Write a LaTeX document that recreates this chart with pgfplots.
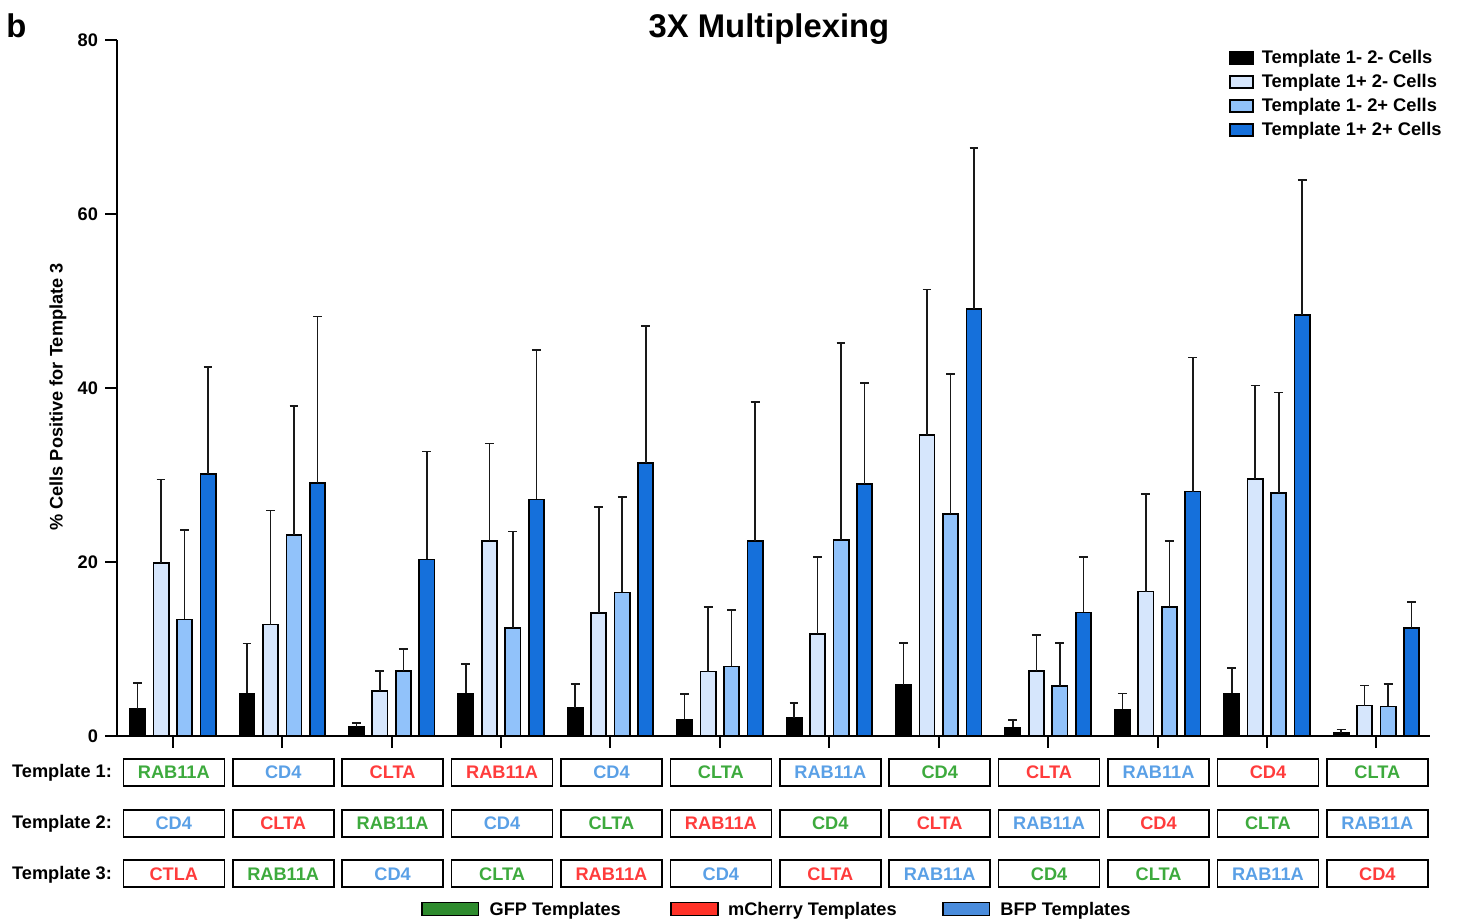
\documentclass[border=0pt]{standalone}
\usepackage{pgfplots}
\pgfplotsset{compat=1.18}
\usepackage{pgfplotstable}
\usepackage{fontspec}
\setmainfont{Liberation Sans}
\definecolor{darkb}{HTML}{1570DB}
\definecolor{midb}{HTML}{91C2FA}
\definecolor{lightb}{HTML}{D6E6FC}
\definecolor{tg}{HTML}{3DAA3D}
\definecolor{tr}{HTML}{FF3C3C}
\definecolor{tb}{HTML}{5AA0E6}
\definecolor{lg}{HTML}{2E8B2E}
\definecolor{lr}{HTML}{FF3228}
\definecolor{lb}{HTML}{4A8CDC}

% x = group, y = mean, e = upper error
\pgfplotstableread{
x y e
0 3.1 3.0
1 4.9 5.75
2 1.07 0.43
3 4.9 3.4
4 3.2 2.8
5 1.9 2.9
6 2.07 1.73
7 5.9 4.8
8 0.98 0.86
9 3.06 1.84
10 4.9 2.9
11 0.35 0.41
}\tblA
\pgfplotstableread{
x y e
0 19.85 9.65
1 12.8 13.1
2 5.2 2.3
3 22.4 11.2
4 14.1 12.2
5 7.4 7.4
6 11.7 8.9
7 34.6 16.7
8 7.5 4.1
9 16.6 11.2
10 29.5 10.8
11 3.5 2.3
}\tblB
\pgfplotstableread{
x y e
0 13.4 10.3
1 23.1 14.8
2 7.5 2.5
3 12.4 11.1
4 16.5 11.0
5 8.0 6.5
6 22.5 22.7
7 25.5 16.1
8 5.75 4.95
9 14.8 7.6
10 27.9 11.6
11 3.4 2.6
}\tblC
\pgfplotstableread{
x y e
0 30.1 12.3
1 29.1 19.1
2 20.3 12.4
3 27.2 17.2
4 31.4 15.7
5 22.4 16.0
6 29.0 11.6
7 49.1 18.5
8 14.2 6.4
9 28.1 15.4
10 48.4 15.5
11 12.4 3.0
}\tblD

\pgfplotsset{eb/.style={error bars/.cd, y dir=plus, y explicit,
  error bar style={line width=0.8pt, black!90},
  error mark options={rotate=90, mark size=2.2pt, line width=0.8pt, black!90}}}

\begin{document}
\begin{tikzpicture}[font=\bfseries\fontsize{9.1}{11}\selectfont,
  box/.style={draw=black, line width=0.8pt, minimum width=50.5pt, minimum height=13.5pt, inner sep=0pt}]
\useasboundingbox (-58.5pt,-91.5pt) rectangle (670pt,368pt);
\begin{axis}[
  at={(0pt,0pt)}, anchor=south west,
  width=656.5pt, height=348pt, scale only axis,
  xmin=-0.51, xmax=11.49, ymin=0, ymax=80,
  axis x line=bottom, axis y line=left,
  axis line style={-, line width=1pt},
  every non boxed x axis/.append style={x axis line style=-},
  every non boxed y axis/.append style={y axis line style=-},
  xtick={0,...,11}, xticklabels={},
  ytick={0,20,40,60,80},
  tick align=outside, major tick length=6pt,
  tick style={line width=1pt, black},
  yticklabel style={font=\bfseries\fontsize{9.1}{11}\selectfont},
  /pgf/number format/assume math mode=true,
  ybar=4.15pt, bar width=7.6pt,
  clip=false,
  legend cell align=left,
  legend style={at={(0.8469,0.9869)}, anchor=north west, draw=none, fill=none,
    inner sep=0pt, outer sep=0pt, row sep=3pt,
    /tikz/every odd column/.append style={column sep=1.6pt},
    nodes={inner xsep=2.5pt, inner ysep=0pt, text height=7pt, text depth=2pt,
      font=\bfseries\fontsize{9.15}{11}\selectfont}},
  legend image code/.code={\draw[#1] (0pt,-3pt) rectangle (11.5pt,3pt);},
]
\addplot[fill=black, draw=black, line width=0.85pt, eb] table[x=x, y=y, y error=e]{\tblA};
\addplot[fill=lightb, draw=black, line width=0.85pt, eb] table[x=x, y=y, y error=e]{\tblB};
\addplot[fill=midb, draw=black, line width=0.85pt, eb] table[x=x, y=y, y error=e]{\tblC};
\addplot[fill=darkb, draw=black, line width=0.85pt, eb] table[x=x, y=y, y error=e]{\tblD};
\legend{Template 1- 2- Cells, Template 1+ 2- Cells, Template 1- 2+ Cells, Template 1+ 2+ Cells}
\end{axis}

% title and panel letter
\node[anchor=base, inner sep=0pt, font=\bfseries\fontsize{16.4}{19}\selectfont] at (326pt,349.25pt) {3X Multiplexing};
\node[anchor=base west, inner sep=0pt, font=\bfseries\fontsize{16.4}{19}\selectfont] at (-55.5pt,349.25pt) {b};
% y label
\node[rotate=90, inner sep=0pt] at (-29.5pt,169.5pt) {\% Cells Positive for Template 3};

% row labels
\node[anchor=base east, inner sep=0pt] at (-2.35pt,-20.65pt) {Template 1:};
\node[anchor=base east, inner sep=0pt] at (-2.35pt,-46.15pt) {Template 2:};
\node[anchor=base east, inner sep=0pt] at (-2.35pt,-71.65pt) {Template 3:};

% template boxes
\foreach \i/\a/\ca/\b/\cb/\c/\cc in {
 0/RAB11A/tg/CD4/tb/CTLA/tr,
 1/CD4/tb/CLTA/tr/RAB11A/tg,
 2/CLTA/tr/RAB11A/tg/CD4/tb,
 3/RAB11A/tr/CD4/tb/CLTA/tg,
 4/CD4/tb/CLTA/tg/RAB11A/tr,
 5/CLTA/tg/RAB11A/tr/CD4/tb,
 6/RAB11A/tb/CD4/tg/CLTA/tr,
 7/CD4/tg/CLTA/tr/RAB11A/tb,
 8/CLTA/tr/RAB11A/tb/CD4/tg,
 9/RAB11A/tb/CD4/tr/CLTA/tg,
 10/CD4/tr/CLTA/tg/RAB11A/tb,
 11/CLTA/tg/RAB11A/tb/CD4/tr}{
  \node[box, text=\ca] at ({(\i+0.51)*54.708pt+0.5pt},-18.2pt) {\a};
  \node[box, text=\cb] at ({(\i+0.51)*54.708pt+0.5pt},-43.75pt) {\b};
  \node[box, text=\cc] at ({(\i+0.51)*54.708pt+0.5pt},-68.9pt) {\c};
}

% bottom colour legend
\draw[fill=lg, draw=black, line width=0.8pt] (152.35pt,-89.85pt) rectangle (180.65pt,-83.35pt);
\node[anchor=base west, inner sep=0pt] at (186.15pt,-89.75pt) {GFP Templates};
\draw[fill=lr, draw=black, line width=0.8pt] (277pt,-89.85pt) rectangle (300.5pt,-83.35pt);
\node[anchor=base west, inner sep=0pt] at (305.35pt,-89.75pt) {mCherry Templates};
\draw[fill=lb, draw=black, line width=0.8pt] (412.85pt,-89.85pt) rectangle (436.15pt,-83.35pt);
\node[anchor=base west, inner sep=0pt] at (441.5pt,-89.75pt) {BFP Templates};
\end{tikzpicture}
\end{document}
